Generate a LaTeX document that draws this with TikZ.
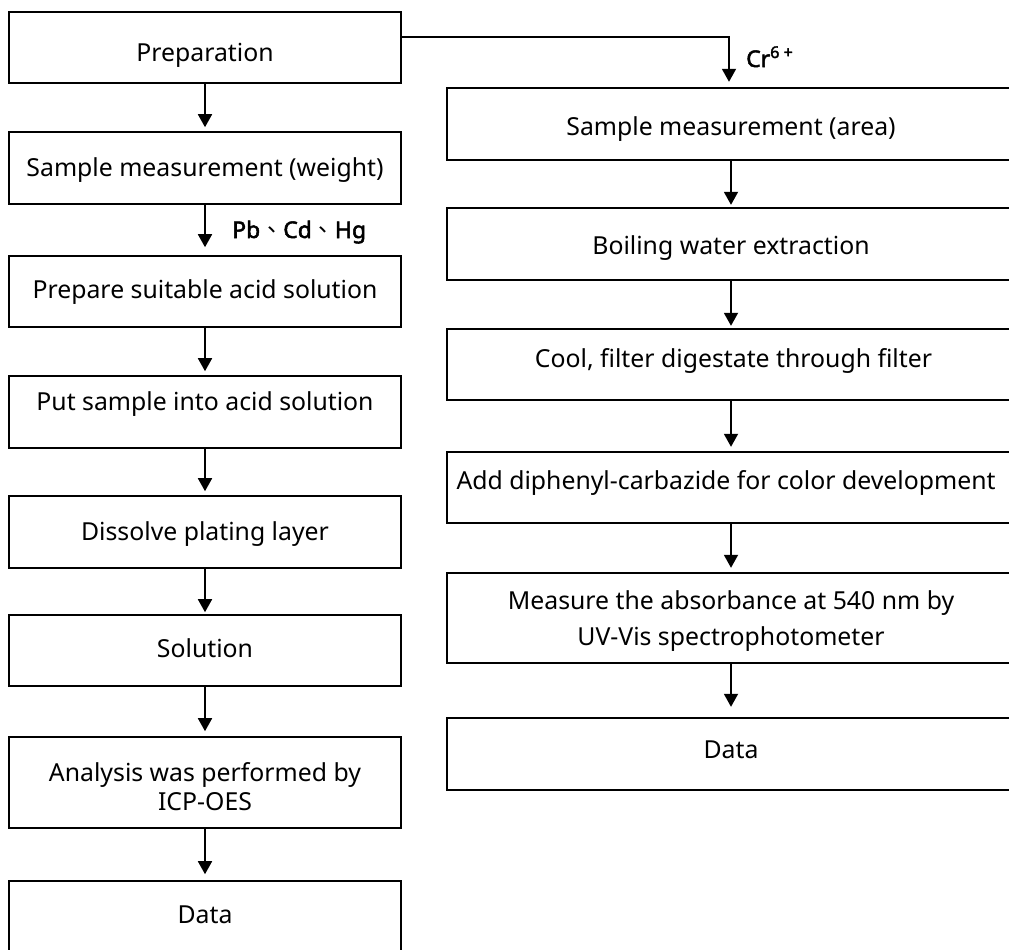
\documentclass[tikz,border=0pt]{standalone}
\usepackage{fontspec}
\setmainfont{Noto Sans}
\newfontfamily\cjk{Noto Sans CJK TC}
\newfontfamily\labfont{Noto Sans}[FakeBold=2.2]
\usetikzlibrary{arrows.meta}
\newcommand{\bl}[2]{\raisebox{-#1pt}[0pt][0pt]{#2}}
\newcommand{\twol}[4]{\raisebox{-#1pt}[0pt][0pt]{\fontsize{24.8}{#2}\selectfont\begin{tabular}[b]{@{}c@{}}#3\\#4\end{tabular}}}
\begin{document}
\begin{tikzpicture}[x=1pt,y=-1pt,
  font=\fontsize{24.8}{29}\selectfont,
  lbox/.style={draw, line width=1.6pt, minimum width=392pt, minimum height=71pt, inner sep=0pt},
  rbox/.style={minimum width=568pt, minimum height=72pt, inner sep=0pt},
  edge/.style={line width=1.6pt},
  arr/.style={line width=1.8pt, -{Triangle[length=13pt,width=14pt]}, shorten >=4pt},
  lab/.style={font=\fontsize{23}{26}\selectfont\labfont, anchor=base west, inner sep=0pt}]
\useasboundingbox (0,0) rectangle (1009,950);
\clip (0,0) rectangle (1009,950);
% left column
\node[lbox] (prep) at (205,47.5) {\bl{14.5}{Preparation}};
\node[lbox, minimum height=72pt] (weight) at (205,168) {\bl{8}{Sample measurement (weight)}};
\node[lbox] (acid) at (205,291.5) {\bl{6.5}{Prepare suitable acid solution}};
\node[lbox, minimum height=72pt] (put) at (205,412) {\bl{-2}{Put sample into acid solution}};
\node[lbox, minimum height=72pt] (diss) at (205,532) {\bl{8}{Dissolve plating layer}};
\node[lbox] (sol) at (205,650.5) {\bl{6.5}{Solution}};
\node[lbox, minimum height=91pt] (icp) at (205,782.5) {\twol{27.5}{29}{Analysis was performed by}{ICP-OES}};
\node[lbox] (data) at (205,916.5) {\bl{6.5}{Data}};
% right column
\node[rbox] (area) at (731,124) {\bl{11}{Sample measurement (area)}};
\node[rbox] (boil) at (731,244) {\bl{10}{Boiling water extraction}};
\node[rbox, minimum height=71pt] (cool) at (731,364.5) {\bl{2.5}{\hspace*{5pt}Cool, filter digestate through filter}};
\node[rbox, minimum height=71pt] (add) at (731,487.5) {\bl{1.5}{\hspace*{-10pt}Add diphenyl-carbazide for color development}};
\node[rbox, minimum height=90pt] (meas) at (731,618) {\twol{27}{36}{Measure the absorbance at 540 nm by}{UV-Vis spectrophotometer}};
\node[rbox] (data2) at (731,754) {\bl{4}{Data}};
\foreach \n in {area,boil,cool,add,meas,data2}
  \draw[edge] ([xshift=80pt]\n.north east) -- (\n.north west) -- (\n.south west) -- ([xshift=80pt]\n.south east);
% arrows
\draw[arr] (prep) -- (weight);
\draw[arr, shorten >=8pt] (weight) -- (acid);
\draw[arr] (acid) -- (put);
\draw[arr] (put) -- (diss);
\draw[arr, shorten >=2pt] (diss) -- (sol);
\draw[arr, shorten >=5pt] (sol) -- (icp);
\draw[arr, shorten >=6pt] (icp) -- (data);
\draw[arr, shorten >=6pt] ([yshift=10.5pt]prep.east) -| ([xshift=-2pt]area.north);
\draw[arr, shorten >=3pt] (area) -- (boil);
\draw[arr, shorten >=3pt] (boil) -- (cool);
\draw[arr, shorten >=5pt] (cool) -- (add);
\draw[arr, shorten >=5pt] (add) -- (meas);
\draw[arr, shorten >=11pt] (meas) -- (data2);
% labels
\node[lab] (pbl) at (232,238) {Pb{\cjk 、}Cd{\cjk 、}Hg};
\node[lab] (crl) at (746,67) {Cr\textsuperscript{6 +}};
\end{tikzpicture}
\end{document}
